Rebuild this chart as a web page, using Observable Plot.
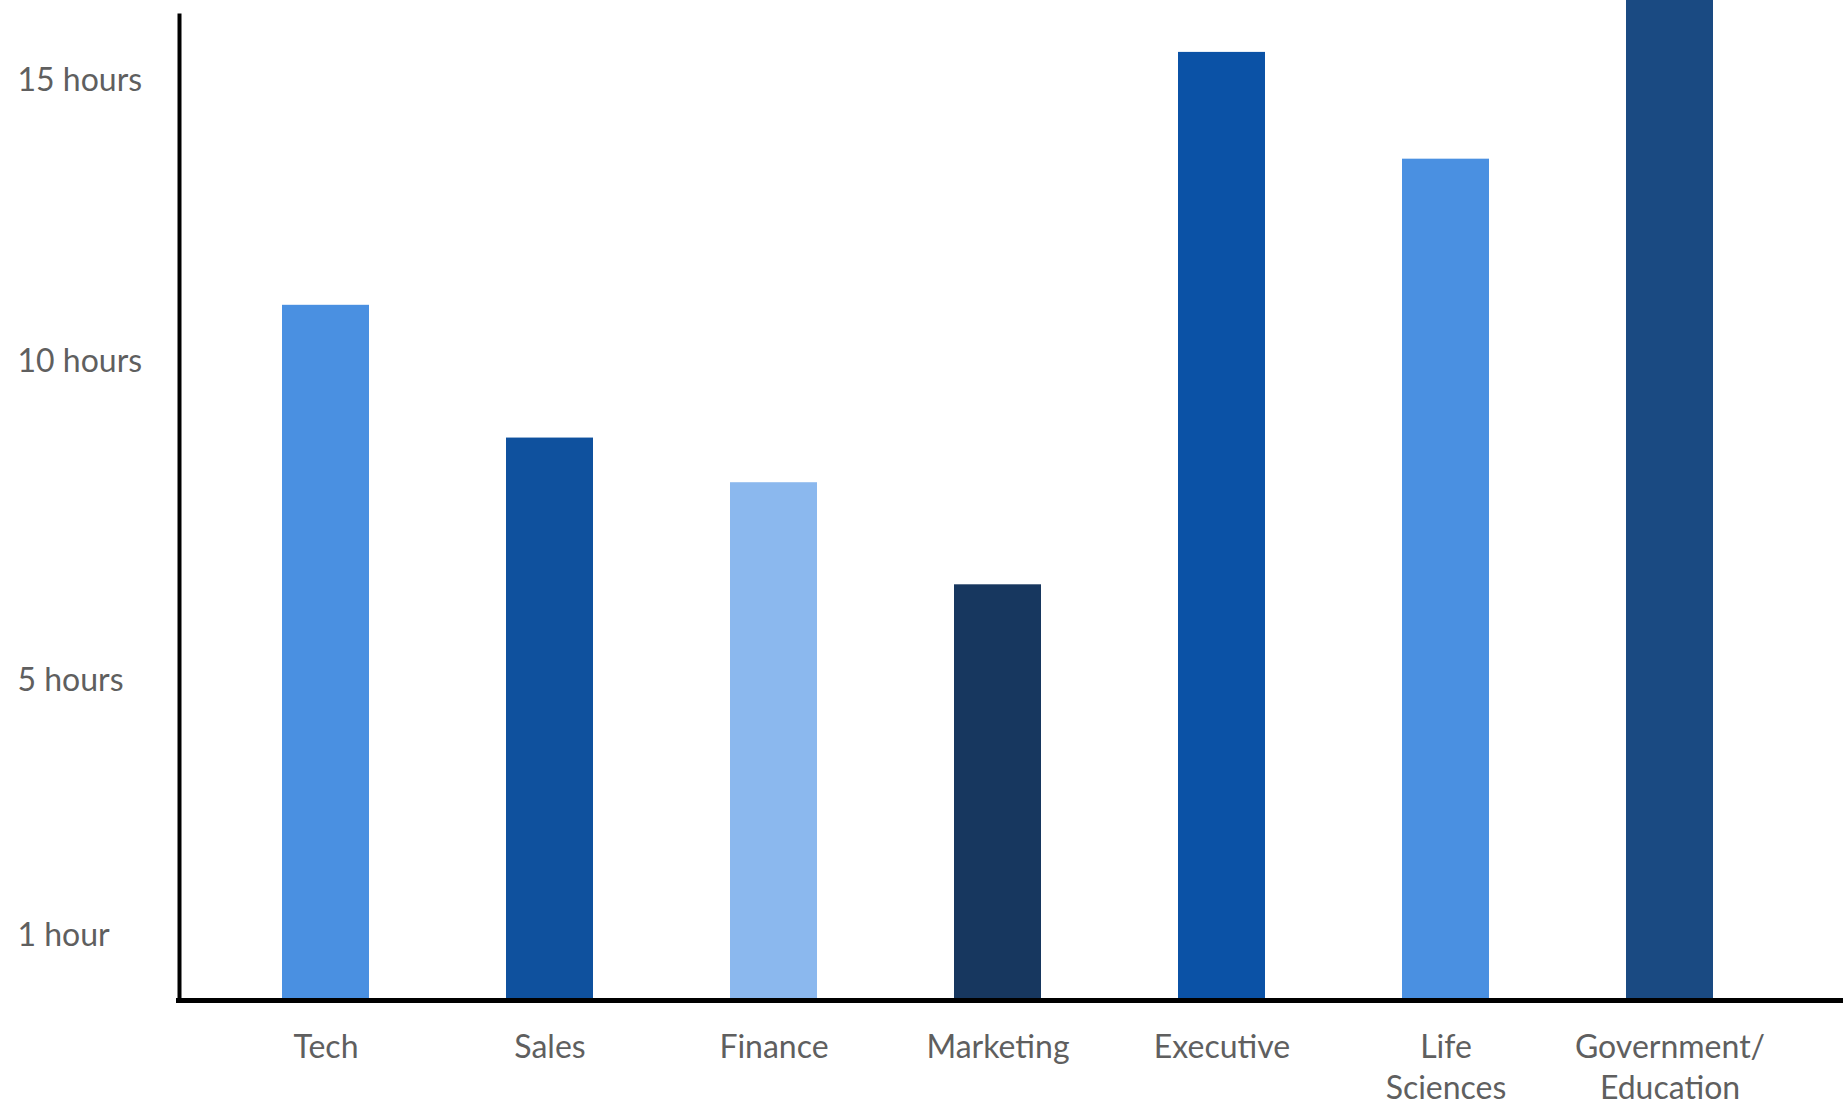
<!DOCTYPE html>
<html><head><meta charset="utf-8">
<script src="https://cdn.jsdelivr.net/npm/d3@7"></script>
<script src="https://cdn.jsdelivr.net/npm/@observablehq/plot@0.6"></script>
<style>body{margin:0;background:#fff;} #chart svg{display:block;}</style>
</head><body><div id="chart"></div>
<script>
const categories = ["Tech", "Sales", "Finance", "Marketing", "Executive", "Life\nSciences", "Government/\nEducation"];
const hours = [11.0, 8.8, 8.1, 6.5, 15.5, 13.6, 17.0];
const barColors = ["#4a90e1", "#0f519e", "#8bb8ee", "#17375f", "#0b52a6", "#4a90e1", "#1a4a82"];
const yTicks = [1, 5, 10, 15];
const yTickLabels = ["1 hour", "5 hours", "10 hours", "15 hours"];

// the reference axis is not evenly spaced: warp hours onto the drawn scale piecewise
const yWarp = d3.scaleLinear().domain([0, 1, 5, 10, 15]).range([0, 65, 320, 639, 920]);
const warpedTicks = yTicks.map(yWarp);
const tickLabel = d => {
  let i = yTicks.indexOf(d);
  if (i < 0) i = warpedTicks.findIndex(w => Math.abs(w - d) < 1e-6);
  return i < 0 ? "" : yTickLabels[i];
};

const data = categories.map((c, i) => ({category: c, hours: hours[i]}));

const chart = Plot.plot({
  width: 1843,
  height: 1105,
  marginLeft: 179,
  marginRight: 0,
  marginTop: 15,
  marginBottom: 105,
  style: {fontFamily: "Lato, sans-serif", background: "#fff"},
  x: {domain: categories, paddingInner: 0.61, paddingOuter: 0.519, align: 0.442, label: null},
  y: {transform: yWarp, domain: [0, 985], label: null},
  color: {domain: categories, range: barColors},
  marks: [
    Plot.barY(data, {x: "category", y: "hours", fill: "category"}),
    Plot.frame({anchor: "left", stroke: "#000", strokeWidth: 4}),
    Plot.ruleY([0], {stroke: "#000", strokeWidth: 5, insetLeft: -3}),
    Plot.axisY(yTicks, {tickSize: 0, tickPadding: 0, textAnchor: "start", dx: -162,
      tickFormat: tickLabel, fontSize: 32, fill: "#5f5f5f", label: null}),
    Plot.axisX({tickSize: 0, tickPadding: 29, fontSize: 32, lineHeight: 1.27,
      fill: "#5f5f5f", label: null})
  ]
});
document.getElementById("chart").append(chart);
</script>
</body></html>
